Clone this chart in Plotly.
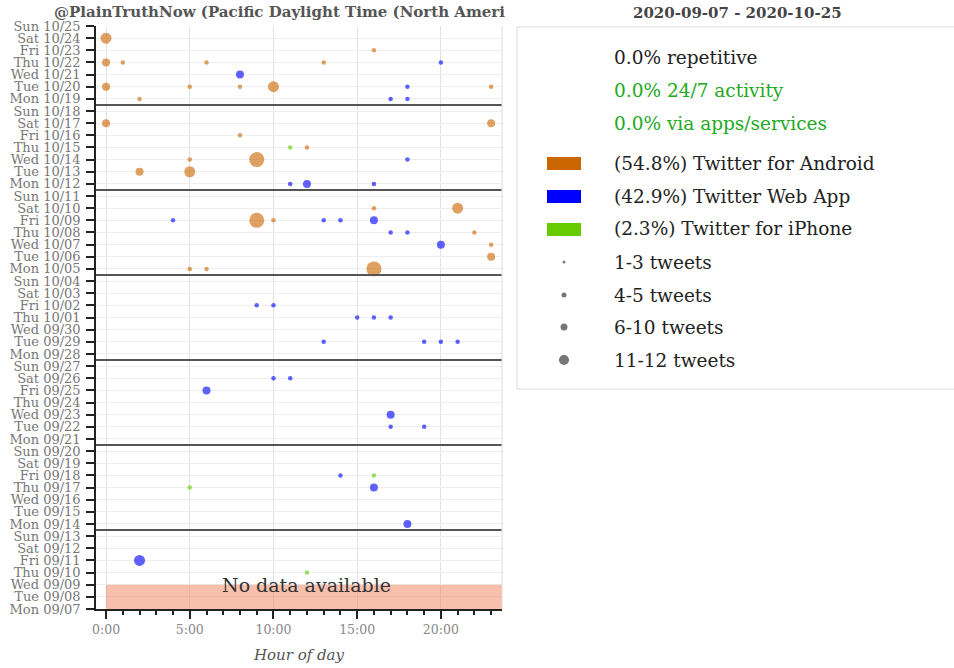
import datetime as dt
import plotly.graph_objects as go

# ---------------- data ----------------
start_day = dt.date(2020, 9, 7)
n_days = 49
day_dates = [start_day + dt.timedelta(days=i) for i in range(n_days)]
day_keys = [d.strftime("%m/%d") for d in day_dates]
day_labels = [d.strftime("%a %m/%d") for d in day_dates]
hour_ticks = [0, 5, 10, 15, 20]
hour_labels = ["0:00", "5:00", "10:00", "15:00", "20:00"]

android_days = ["10/24", "10/23", "10/22", "10/22", "10/22", "10/22", "10/20", "10/20", "10/20", "10/20",
                "10/20", "10/19", "10/17", "10/17", "10/16", "10/15", "10/14", "10/14", "10/13", "10/13",
                "10/10", "10/10", "10/09", "10/09", "10/08", "10/07", "10/06", "10/05", "10/05", "10/05"]
android_hours = [0, 16, 0, 1, 6, 13, 0, 5, 8, 10,
                 23, 2, 0, 23, 8, 12, 5, 9, 2, 5,
                 16, 21, 9, 10, 22, 23, 23, 5, 6, 16]
android_counts = [8, 1, 4, 1, 1, 1, 4, 1, 1, 8,
                  1, 1, 4, 4, 1, 1, 1, 12, 4, 8,
                  1, 8, 12, 1, 1, 1, 4, 1, 1, 12]

web_days = ["10/22", "10/21", "10/20", "10/19", "10/19", "10/14", "10/12", "10/12", "10/12", "10/09",
            "10/09", "10/09", "10/09", "10/08", "10/08", "10/07", "10/02", "10/02", "10/01", "10/01",
            "10/01", "09/29", "09/29", "09/29", "09/29", "09/26", "09/26", "09/25", "09/23", "09/22",
            "09/22", "09/18", "09/17", "09/14", "09/11"]
web_hours = [20, 8, 18, 17, 18, 18, 11, 12, 16, 4,
             13, 14, 16, 17, 18, 20, 9, 10, 15, 16,
             17, 13, 19, 20, 21, 10, 11, 6, 17, 17,
             19, 14, 16, 18, 2]
web_counts = [1, 4, 1, 1, 1, 1, 1, 4, 1, 1,
              1, 1, 4, 1, 1, 4, 1, 1, 1, 1,
              1, 1, 1, 1, 1, 1, 1, 4, 4, 1,
              1, 1, 4, 4, 8]

iphone_days = ["10/15", "09/18", "09/17", "09/10"]
iphone_hours = [11, 16, 5, 12]
iphone_counts = [1, 1, 1, 1]

source_names = ["(54.8%) Twitter for Android", "(42.9%) Twitter Web App", "(2.3%) Twitter for iPhone"]
source_colors = ["rgb(204,102,0)", "rgb(0,0,255)", "rgb(102,204,0)"]
size_names = ["1-3 tweets", "4-5 tweets", "6-10 tweets", "11-12 tweets"]
stat_texts = ["0.0% repetitive", "0.0% 24/7 activity", "0.0% via apps/services"]
stat_colors = ["#222222", "#22aa22", "#22aa22"]
week_breaks = [6.5, 13.5, 20.5, 27.5, 34.5, 41.5]
no_data_range = [0, 2]

FONT = "DejaVu Serif"
W, H = 954, 668
# plot area in page pixels
L, R, T, B = 96, 502, 26, 609


def px(x):
    return (x - L) / (R - L)


def py(y):
    return (B - y) / (B - T)


def msize(c):
    if c <= 3:
        return 4.5
    if c <= 5:
        return 8
    if c <= 10:
        return 11
    return 15


day_index = {k: i for i, k in enumerate(day_keys)}

fig = go.Figure()
for days, hours, counts, color in [
    (android_days, android_hours, android_counts, source_colors[0]),
    (web_days, web_hours, web_counts, source_colors[1]),
    (iphone_days, iphone_hours, iphone_counts, source_colors[2]),
]:
    fig.add_trace(go.Scatter(
        x=hours, y=[day_index[d] for d in days], mode="markers",
        marker=dict(size=[msize(c) for c in counts], color=color, opacity=0.62, line=dict(width=0)),
        showlegend=False, hoverinfo="x+y",
    ))

shapes = []
shapes.append(dict(type="rect", xref="x", yref="y", x0=0, x1=23.65, y0=no_data_range[0], y1=no_data_range[1],
                   fillcolor="rgba(240,128,90,0.5)", line=dict(width=0), layer="above"))
for yb in week_breaks:
    shapes.append(dict(type="line", xref="paper", yref="y", x0=0, x1=1, y0=yb, y1=yb,
                       line=dict(color="#555555", width=2)))
shapes.append(dict(type="line", xref="paper", yref="paper", x0=1, x1=1, y0=0, y1=1,
                   line=dict(color="#dddddd", width=1)))
shapes.append(dict(type="rect", xref="paper", yref="paper", x0=px(517), x1=px(990), y0=py(389), y1=py(27),
                   line=dict(color="#dddddd", width=1), fillcolor="white"))

annotations = []
annotations.append(dict(text="<b>@PlainTruthNow (Pacific Daylight Time (North Ameri</b>", xref="paper", yref="paper",
                        x=px(52), y=py(12), xanchor="left", yanchor="middle", showarrow=False,
                        font=dict(family=FONT, size=15, color="#555555")))
annotations.append(dict(text="<b>2020-09-07 - 2020-10-25</b>", xref="paper", yref="paper",
                        x=px(737), y=py(13), xanchor="center", yanchor="middle", showarrow=False,
                        font=dict(family=FONT, size=15, color="#444444")))
annotations.append(dict(text="No data available", xref="x", yref="y", x=12, y=no_data_range[1],
                        xanchor="center", yanchor="middle", showarrow=False,
                        font=dict(family=FONT, size=19, color="#333333")))

TXT = 18.5
ys_stats = [58, 90, 123]
for t, c, yy in zip(stat_texts, stat_colors, ys_stats):
    annotations.append(dict(text=t, xref="paper", yref="paper", x=px(612), y=py(yy), xanchor="left",
                            yanchor="middle", showarrow=False, font=dict(family=FONT, size=TXT, color=c)))
ys_src = [163, 196, 229]
for t, c, yy in zip(source_names, source_colors, ys_src):
    shapes.append(dict(type="rect", xref="paper", yref="paper", x0=px(547), x1=px(581), y0=py(yy + 7),
                       y1=py(yy - 6), fillcolor=c, line=dict(width=0)))
    annotations.append(dict(text=t, xref="paper", yref="paper", x=px(612), y=py(yy), xanchor="left",
                            yanchor="middle", showarrow=False, font=dict(family=FONT, size=TXT, color="#222222")))
ys_size = [262, 295, 327, 360]
dots = [3, 5, 7, 10]
for t, d, yy in zip(size_names, dots, ys_size):
    shapes.append(dict(type="circle", xref="paper", yref="paper", x0=px(564 - d / 2), x1=px(564 + d / 2),
                       y0=py(yy + d / 2), y1=py(yy - d / 2), fillcolor="#777777", line=dict(width=0)))
    annotations.append(dict(text=t, xref="paper", yref="paper", x=px(612), y=py(yy), xanchor="left",
                            yanchor="middle", showarrow=False, font=dict(family=FONT, size=TXT, color="#222222")))

fig.update_layout(
    width=W, height=H,
    margin=dict(l=L, r=W - R, t=T, b=H - B, autoexpand=False),
    plot_bgcolor="white", paper_bgcolor="white",
    font=dict(family=FONT),
    shapes=shapes, annotations=annotations, showlegend=False,
    xaxis=dict(range=[-0.6, 23.65], tickvals=hour_ticks, ticktext=hour_labels, ticks="outside", ticklen=8,
               tickwidth=1.5, tickcolor="#222222", showline=True, linecolor="#222222", linewidth=1.5,
               showgrid=True, gridcolor="#e2e2e2", zeroline=False, automargin=False,
               minor=dict(dtick=1, tick0=0, ticks="outside", ticklen=4, tickcolor="#222222", showgrid=False),
               tickfont=dict(family=FONT, size=12.5, color="#888888"),
               title=dict(text="<i>Hour of day</i>", font=dict(family=FONT, size=15, color="#555555"), standoff=14)),
    yaxis=dict(range=[0, 48], tickvals=list(range(n_days)), ticktext=day_labels, ticks="outside", ticklen=8,
               tickwidth=1.5, tickcolor="#222222", showline=True, linecolor="#222222", linewidth=1.5,
               showgrid=True, gridcolor="#eeeeee", zeroline=False, automargin=False, ticklabelstandoff=3,
               tickfont=dict(family=FONT, size=13, color="#777777")),
)

fig.write_html("out.html", config={"displayModeBar": False},
               post_script="document.body.style.margin='0px';")
